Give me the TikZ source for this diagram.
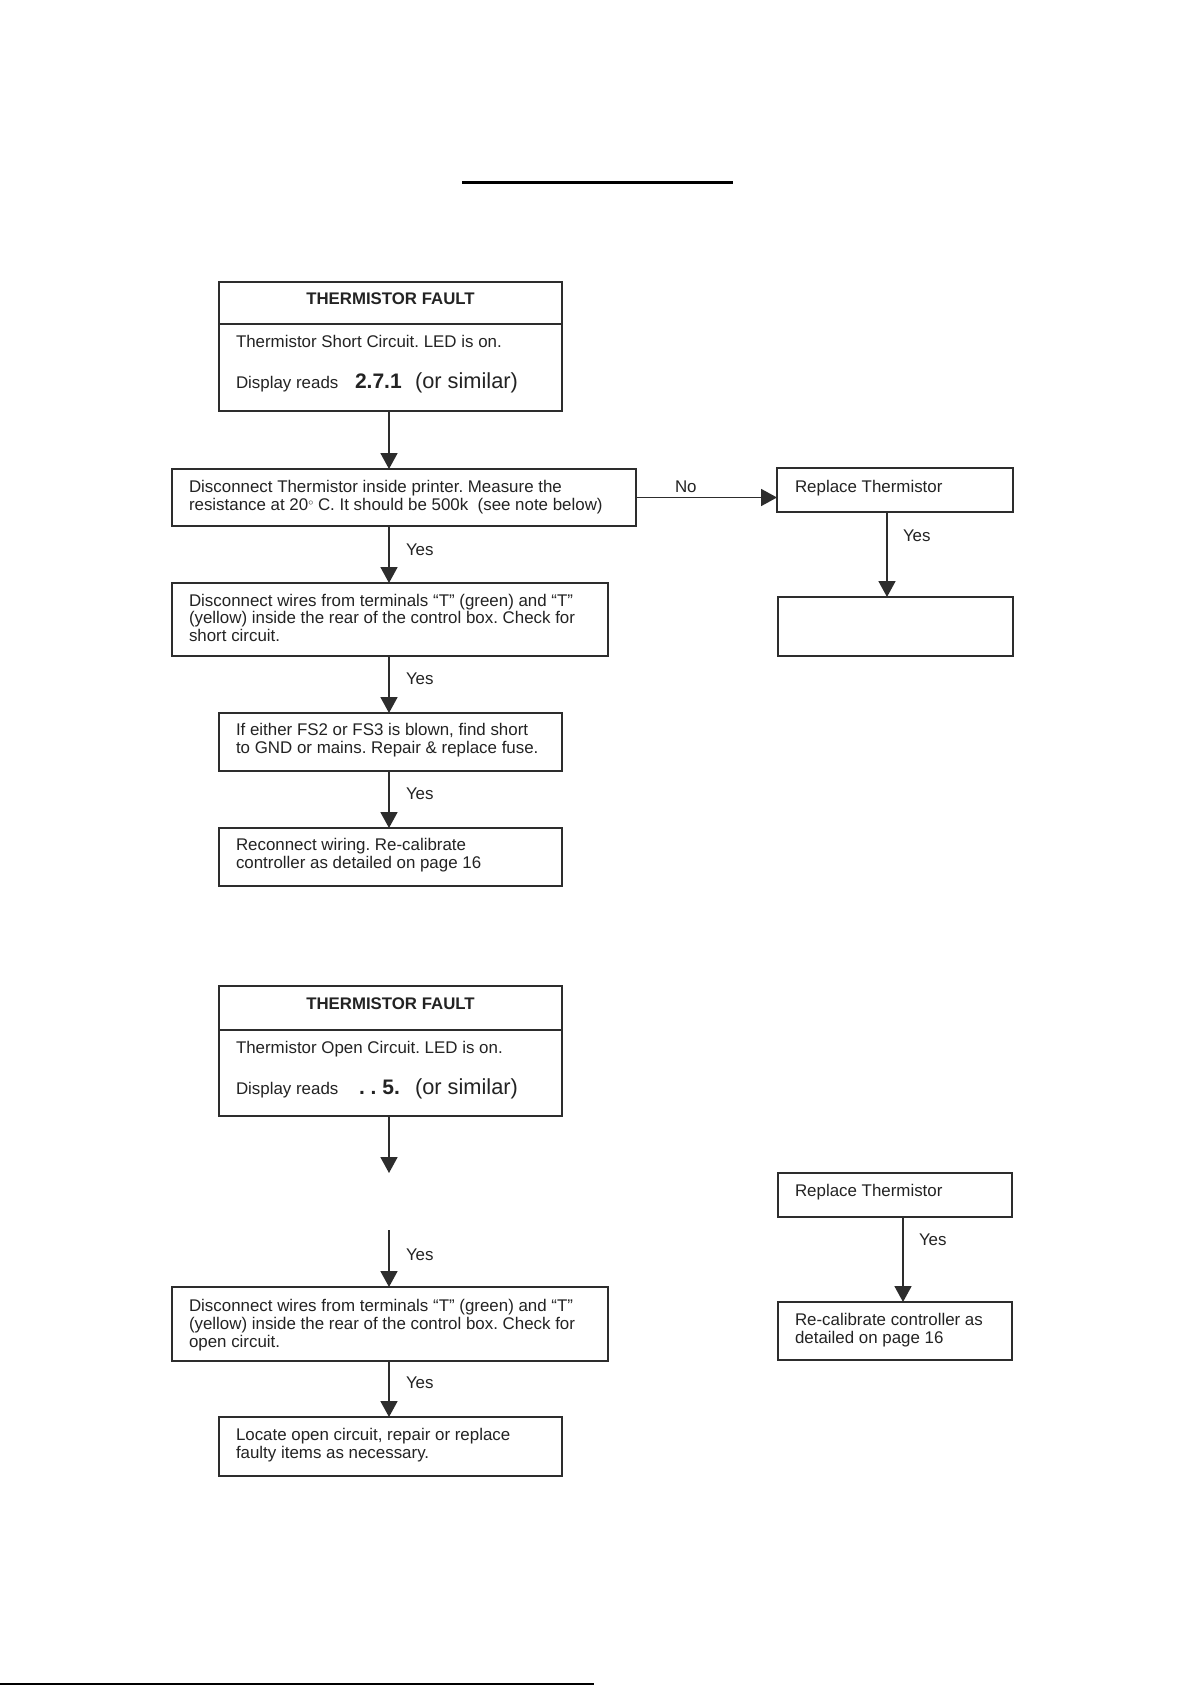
\documentclass[tikz,border=0pt]{standalone}
\usepackage{fontspec}
\setmainfont{Liberation Sans}
\usetikzlibrary{arrows.meta}
\definecolor{linec}{RGB}{45,45,45}
\definecolor{textc}{RGB}{35,35,35}
\frenchspacing
\begin{document}
\begin{tikzpicture}[x=1pt,y=-1pt,
  box/.style={draw=linec, line width=1.8pt, inner sep=0pt, outer sep=0pt, anchor=north west},
  txt/.style={inner sep=0pt, outer sep=0pt, anchor=base west, text=textc, font=\fontsize{16.9}{18}\selectfont},
  ttl/.style={inner sep=0pt, outer sep=0pt, anchor=base, text=textc, font=\bfseries\fontsize{16.8}{18}\selectfont},
  big/.style={inner sep=0pt, outer sep=0pt, anchor=base west, text=textc, font=\fontsize{21.8}{24}\selectfont},
  bigb/.style={inner sep=0pt, outer sep=0pt, anchor=base west, text=textc, font=\bfseries\fontsize{21}{24}\selectfont},
  arr/.style={draw=linec, line width=1.8pt, -{Triangle[length=16pt,width=17pt]}},
  conn/.style={draw=linec, line width=1.8pt}]
\useasboundingbox (0,0) rectangle (1191,1685);
\fill[white] (0,0) rectangle (1191,1685);

% header rule and footer rule
\coordinate (hl) at (462,182.5);
\coordinate (hr) at (733,182.5);
\draw[black, line width=3pt] (hl) -- (hr);
\coordinate (fl) at (0,1684);
\coordinate (fr) at (594,1684);
\draw[black, line width=1.5pt] (fl) -- (fr);

\coordinate (colx) at (389,0);
\coordinate (rcolA) at (887,0);
\coordinate (rcolB) at (903,0);

% ===== Section 1 =====
\node[box, minimum width=343pt, minimum height=129pt] (b1) at (219,282) {};
\coordinate (d1) at (0,324);
\draw[conn] (b1.west |- d1) -- (b1.east |- d1);
\node[ttl] (b1t) at (390.5,305) {THERMISTOR FAULT};
\node[txt] (b1a) at (236,347) {Thermistor Short Circuit. LED is on.};
\node[txt] (b1b) at (236,388) {Display reads};
\node[bigb] (b1c) at (355,388) {2.7.1};
\node[big] (b1d) at (415,388) {(or similar)};

\node[box, minimum width=464pt, minimum height=57pt] (b2) at (172,469) {};
\node[txt] (b2a) at (189,492) {Disconnect Thermistor inside printer. Measure the};
\node[txt] (b2b) at (189,510) {resistance at 20\raisebox{0.45ex}{\fontsize{10}{10}\selectfont$\circ$} C. It should be 500k\ \ (see note below)};

\node[box, minimum width=236pt, minimum height=44pt] (r1) at (777,468) {};
\node[txt] (r1a) at (795,492) {Replace Thermistor};

\node[box, minimum width=235pt, minimum height=59pt] (r2) at (778,597) {};

\node[box, minimum width=436pt, minimum height=73pt] (b3) at (172,583) {};
\node[txt] (b3a) at (189,606) {Disconnect wires from terminals “T” (green) and “T”};
\node[txt] (b3b) at (189,623.5) {(yellow) inside the rear of the control box. Check for};
\node[txt] (b3c) at (189,641.5) {short circuit.};

\node[box, minimum width=343pt, minimum height=58pt] (b4) at (219,713) {};
\node[txt] (b4a) at (236,735) {If either FS2 or FS3 is blown, find short};
\node[txt] (b4b) at (236,753) {to GND or mains. Repair \& replace fuse.};

\node[box, minimum width=343pt, minimum height=58pt] (b5) at (219,828) {};
\node[txt] (b5a) at (236,850) {Reconnect wiring. Re-calibrate};
\node[txt] (b5b) at (236,868) {controller as detailed on page 16};

\draw[arr] (colx |- b1.south) -- (colx |- b2.north);
\draw[arr] (colx |- b2.south) -- (colx |- b3.north);
\draw[arr] (colx |- b3.south) -- (colx |- b4.north);
\draw[arr] (colx |- b4.south) -- (colx |- b5.north);
\draw[arr] (b2.east) -- (r1.west |- b2.east);
\draw[arr] (rcolA |- r1.south) -- (rcolA |- r2.north);

\node[txt] (y1) at (406,555) {Yes};
\node[txt] (y2) at (406,684) {Yes};
\node[txt] (y3) at (406,799) {Yes};
\node[txt] (n1) at (675,492) {No};
\node[txt] (y4) at (903,541) {Yes};

% ===== Section 2 =====
\node[box, minimum width=343pt, minimum height=130pt] (b6) at (219,986) {};
\coordinate (d6) at (0,1030);
\draw[conn] (b6.west |- d6) -- (b6.east |- d6);
\node[ttl] (b6t) at (390.5,1009) {THERMISTOR FAULT};
\node[txt] (b6a) at (236,1053) {Thermistor Open Circuit. LED is on.};
\node[txt] (b6b) at (236,1094) {Display reads};
\node[bigb] (b6c) at (359,1094) {.\ .\ 5.};
\node[big] (b6d) at (415,1094) {(or similar)};

\coordinate (a6end) at (389,1173);
\coordinate (a7start) at (389,1230);
\draw[arr] (colx |- b6.south) -- (a6end);

\node[box, minimum width=436pt, minimum height=74pt] (b7) at (172,1287) {};
\node[txt] (b7a) at (189,1311) {Disconnect wires from terminals “T” (green) and “T”};
\node[txt] (b7b) at (189,1329) {(yellow) inside the rear of the control box. Check for};
\node[txt] (b7c) at (189,1347) {open circuit.};

\node[box, minimum width=343pt, minimum height=59pt] (b8) at (219,1417) {};
\node[txt] (b8a) at (236,1440) {Locate open circuit, repair or replace};
\node[txt] (b8b) at (236,1458) {faulty items as necessary.};

\draw[arr] (a7start) -- (colx |- b7.north);
\draw[arr] (colx |- b7.south) -- (colx |- b8.north);
\node[txt] (y5) at (406,1260) {Yes};
\node[txt] (y6) at (406,1388) {Yes};

\node[box, minimum width=234pt, minimum height=44pt] (r3) at (778,1173) {};
\node[txt] (r3a) at (795,1196) {Replace Thermistor};
\node[box, minimum width=234pt, minimum height=58pt] (r4) at (778,1302) {};
\node[txt] (r4a) at (795,1325) {Re-calibrate controller as};
\node[txt] (r4b) at (795,1343) {detailed on page 16};
\draw[arr] (rcolB |- r3.south) -- (rcolB |- r4.north);
\node[txt] (y7) at (919,1245) {Yes};
\end{tikzpicture}
\end{document}
